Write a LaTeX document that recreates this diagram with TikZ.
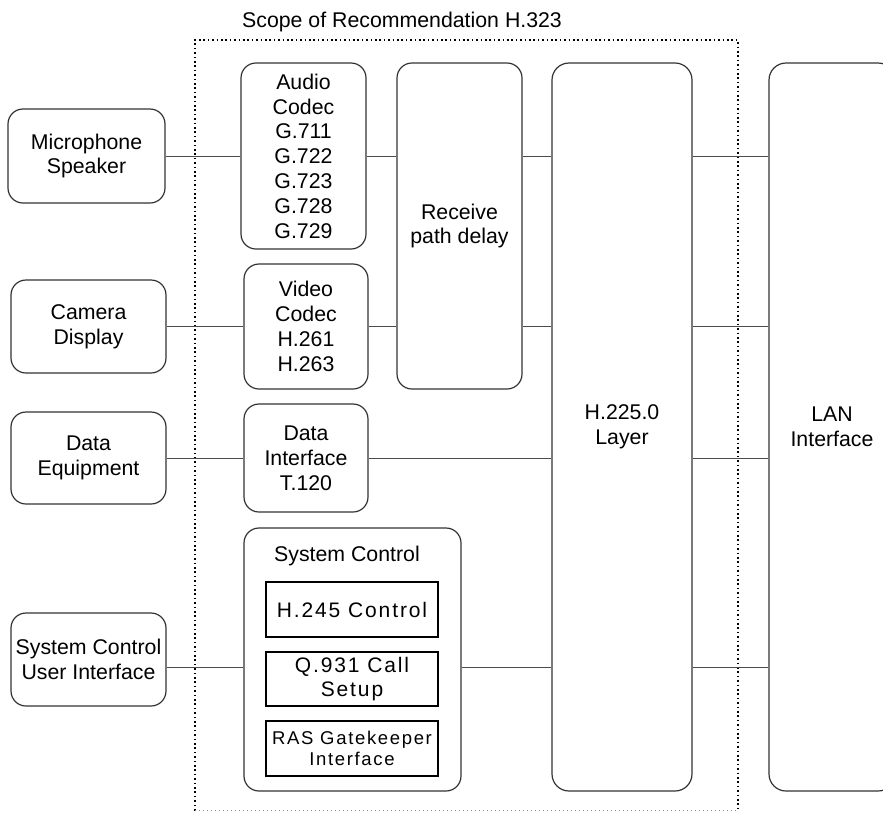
\documentclass[tikz,border=0pt]{standalone}
\usepackage{fontspec}
\setmainfont{Liberation Sans}
\begin{document}
\begin{tikzpicture}[x=1pt,y=-1pt,
  every node/.style={font=\fontsize{21.3}{24.8}\selectfont},
  rbox/.style={draw=black!80, line width=1.2pt, rounded corners=15pt, inner sep=0pt, align=center},
  sbox/.style={draw=black, line width=1.2pt, inner sep=0pt, align=center,
    font=\fontsize{21}{24.3}\selectfont\addfontfeature{LetterSpace=9}},
  smallbox/.style={sbox, font=\fontsize{18.5}{21.7}\selectfont\addfontfeature{LetterSpace=9}},
  conn/.style={draw=black!70, line width=1pt},
  scopeline/.style={draw=black, line width=1.8pt, dash pattern=on 1.6pt off 2.8pt},
  scopebottom/.style={draw=black!45, line width=0.8pt, dash pattern=on 1pt off 3pt}]
\path[use as bounding box] (0,0) rectangle (883,812);
\clip (0,0) rectangle (883,812);

% scope of recommendation
\node[anchor=base west, inner sep=0pt] (title) at (242,27) {Scope of Recommendation H.323};
\coordinate (stl) at (195,40);
\coordinate (str) at (738,40);
\coordinate (sbl) at (195,810.5);
\coordinate (sbr) at (738,810.5);
\draw[scopeline] (sbl) -- (stl) -- (str) -- (sbr);
\draw[scopebottom] (sbl) -- (sbr);

% external equipment
\node[rbox, minimum width=157pt, minimum height=94pt] (mic) at (86.5,156) {Microphone\\Speaker};
\node[rbox, minimum width=155pt, minimum height=93pt] (cam) at (88.5,326.5) {Camera\\Display};
\node[rbox, minimum width=155pt, minimum height=92pt] (deq) at (88.5,458) {Data\\Equipment};
\node[rbox, minimum width=155pt, minimum height=93pt] (scui) at (88.5,659.5) {System Control\\User Interface};

% codecs
\node[rbox, minimum width=125pt, minimum height=186pt] (audio) at (303.5,156) {Audio\\Codec\\G.711\\G.722\\G.723\\G.728\\G.729};
\node[rbox, minimum width=124pt, minimum height=125pt] (video) at (306,326.5) {Video\\Codec\\H.261\\H.263};
\node[rbox, minimum width=124pt, minimum height=108pt] (dint) at (306,458) {Data\\Interface\\T.120};
\node[rbox, minimum width=217pt, minimum height=263pt] (sc) at (352.5,659.5) {};
\node[anchor=base, inner sep=0pt] (sclabel) at (347,561) {System Control};
\node[sbox, minimum width=172pt, minimum height=55pt] (h245) at (352,609.5) {H.245 Control};
\node[sbox, minimum width=172pt, minimum height=54pt] (q931) at (352,679) {Q.931 Call\\Setup};
\node[smallbox, minimum width=172pt, minimum height=55pt] (ras) at (352,748.5) {RAS Gatekeeper\\Interface};

% delay, H.225, LAN
\node[rbox, minimum width=125pt, minimum height=326pt] (rpd) at (459.5,226) {Receive\\path delay};
\node[rbox, rounded corners=17pt, minimum width=140pt, minimum height=728pt] (h225) at (622,427) {H.225.0\\Layer};
\node[rbox, rounded corners=17pt, minimum width=126pt, minimum height=728pt] (lan) at (832,427) {LAN\\Interface};

% connector rows
\coordinate (r1) at (0,156);
\coordinate (r2) at (0,326.5);
\coordinate (r3) at (0,458);
\coordinate (r4) at (0,667);

\draw[conn] (mic.east |- r1) -- (audio.west |- r1);
\draw[conn] (audio.east |- r1) -- (rpd.west |- r1);
\draw[conn] (rpd.east |- r1) -- (h225.west |- r1);
\draw[conn] (h225.east |- r1) -- (lan.west |- r1);

\draw[conn] (cam.east |- r2) -- (video.west |- r2);
\draw[conn] (video.east |- r2) -- (rpd.west |- r2);
\draw[conn] (rpd.east |- r2) -- (h225.west |- r2);
\draw[conn] (h225.east |- r2) -- (lan.west |- r2);

\draw[conn] (deq.east |- r3) -- (dint.west |- r3);
\draw[conn] (dint.east |- r3) -- (h225.west |- r3);
\draw[conn] (h225.east |- r3) -- (lan.west |- r3);

\draw[conn] (scui.east |- r4) -- (sc.west |- r4);
\draw[conn] (sc.east |- r4) -- (h225.west |- r4);
\draw[conn] (h225.east |- r4) -- (lan.west |- r4);
\end{tikzpicture}
\end{document}
